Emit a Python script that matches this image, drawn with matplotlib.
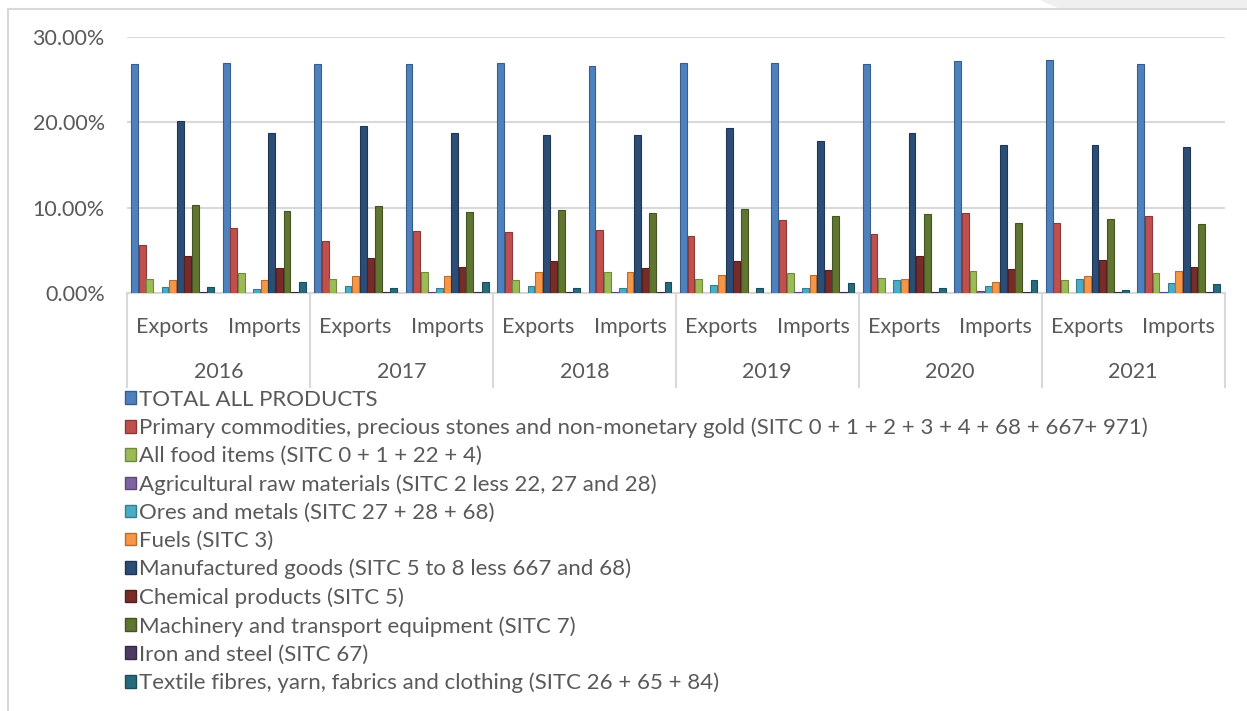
import numpy as np
import matplotlib.pyplot as plt
from matplotlib.patches import Patch, Polygon
from matplotlib.ticker import FuncFormatter

# Share of trade by product group (% of total trade), per year and flow
years = ["2016", "2017", "2018", "2019", "2020", "2021"]
flows = ["Exports", "Imports"]

products = [
    "TOTAL ALL PRODUCTS",
    "Primary commodities, precious stones and non-monetary gold (SITC 0 + 1 + 2 + 3 + 4 + 68 + 667+ 971)",
    "All food items (SITC 0 + 1 + 22 + 4)",
    "Agricultural raw materials (SITC 2 less 22, 27 and 28)",
    "Ores and metals (SITC 27 + 28 + 68)",
    "Fuels (SITC 3)",
    "Manufactured goods (SITC 5 to 8 less 667 and 68)",
    "Chemical products (SITC 5)",
    "Machinery and transport equipment (SITC 7)",
    "Iron and steel (SITC 67)",
    "Textile fibres, yarn, fabrics and clothing (SITC 26 + 65 + 84)",
]

# one value per (year, flow): 2016 Exp, 2016 Imp, 2017 Exp, ...
total_all = [26.8, 26.9, 26.8, 26.8, 26.9, 26.6, 26.9, 26.9, 26.8, 27.2, 27.25, 26.8]
primary = [5.6, 7.6, 6.1, 7.25, 7.1, 7.35, 6.65, 8.5, 6.9, 9.35, 8.2, 9.0]
food = [1.6, 2.3, 1.6, 2.45, 1.5, 2.45, 1.6, 2.3, 1.75, 2.6, 1.5, 2.3]
agri_raw = [0.05, 0.05, 0.05, 0.1, 0.05, 0.1, 0.05, 0.1, 0.05, 0.2, 0.05, 0.15]
ores = [0.7, 0.5, 0.8, 0.6, 0.8, 0.6, 0.9, 0.6, 1.5, 0.8, 1.6, 1.2]
fuels = [1.5, 1.5, 2.0, 2.0, 2.45, 2.45, 2.1, 2.1, 1.6, 1.3, 2.0, 2.6]
manufactured = [20.2, 18.8, 19.6, 18.8, 18.5, 18.5, 19.3, 17.85, 18.8, 17.35, 17.35, 17.1]
chemical = [4.3, 2.9, 4.1, 3.0, 3.75, 2.9, 3.75, 2.7, 4.3, 2.8, 3.85, 3.0]
machinery = [10.3, 9.6, 10.2, 9.5, 9.7, 9.35, 9.8, 9.0, 9.25, 8.2, 8.65, 8.1]
iron_steel = [0.1, 0.1, 0.1, 0.1, 0.1, 0.1, 0.05, 0.1, 0.1, 0.1, 0.1, 0.1]
textile = [0.7, 1.3, 0.6, 1.3, 0.6, 1.3, 0.6, 1.2, 0.6, 1.5, 0.3, 1.1]

series = [total_all, primary, food, agri_raw, ores, fuels,
          manufactured, chemical, machinery, iron_steel, textile]

colors = ["#4F81BD", "#C0504D", "#9BBB59", "#8064A2", "#4BACC6", "#F79646",
          "#2C4D75", "#772C2A", "#5F7530", "#4D3B62", "#276A7C"]
edge_colors = ["#385D8A", "#8C3836", "#71893F", "#5C4776", "#357D91", "#B66D31",
               "#1F3754", "#561F1E", "#445422", "#372A47", "#1B4C59"]

TEXT = "#595959"
GRID = "#D9D9D9"
FS = 15.5
plt.rcParams["font.family"] = ["Lato", "DejaVu Sans"]

fig = plt.figure(figsize=(12.47, 7.11), dpi=100)
ax = fig.add_axes([0.1018, 0.588, 0.8802, 0.36])

n_cat = len(years) * len(flows)
x = np.arange(n_cat)
slot = 0.915 / len(series)
for j, (vals, c, ec) in enumerate(zip(series, colors, edge_colors)):
    pos = x + (j - (len(series) - 1) / 2) * slot
    ax.bar(pos, vals, width=slot * 0.9, color=c, edgecolor=ec, linewidth=0.8,
           label=products[j], zorder=3)

ax.set_xlim(-0.5, n_cat - 0.5)
ax.set_ylim(0, 30)
ax.set_yticks([0, 10, 20, 30])
ax.yaxis.set_major_formatter(FuncFormatter(lambda v, _: f"{v:.2f}%"))
ax.tick_params(axis="y", length=0, labelsize=FS, labelcolor=TEXT, pad=16)
ax.grid(axis="y", color=GRID, linewidth=1.5, zorder=0)
ax.set_xticks([])
for side in ["left", "right", "top"]:
    ax.spines[side].set_visible(False)
ax.spines["bottom"].set_color(GRID)
ax.spines["bottom"].set_linewidth(1.5)

# two-level category axis: flow on the first row, year below
tr = ax.get_xaxis_transform()
for i in range(n_cat):
    ax.text(x[i], -0.133, flows[i % 2], transform=tr, ha="center", va="center",
            fontsize=FS, color=TEXT)
for k, yr in enumerate(years):
    ax.text(2 * k + 0.5, -0.31, yr, transform=tr, ha="center", va="center",
            fontsize=FS, color=TEXT)
for b in np.arange(-0.5, n_cat, 2):
    ax.plot([b, b], [0, -0.367], transform=tr, color=GRID, linewidth=1.5,
            clip_on=False)

# legend stacked below the chart
handles = [Patch(facecolor=c, edgecolor=ec, linewidth=1.0)
           for c, ec in zip(colors, edge_colors)]
fig.legend(handles, products, loc="upper left", bbox_to_anchor=(0.1, 0.452),
           frameon=False, fontsize=16, labelcolor=TEXT, handlelength=0.5,
           handleheight=0.5, handletextpad=0.15, labelspacing=0.36,
           borderaxespad=0, borderpad=0)

# outer chart frame and tab in the top right corner
fig.add_artist(plt.Line2D([8 / 1247, 8 / 1247], [0, 1 - 9 / 711],
                          transform=fig.transFigure, color=GRID, linewidth=1.5))
fig.add_artist(plt.Line2D([8 / 1247, 1], [1 - 9 / 711, 1 - 9 / 711],
                          transform=fig.transFigure, color=GRID, linewidth=1.5))
fig.add_artist(Polygon([[1040 / 1247, 1], [1, 1], [1, 1 - 9 / 711],
                        [1060 / 1247, 1 - 9 / 711]], closed=True,
                       transform=fig.transFigure, facecolor="#EFEFEF",
                       edgecolor="none"))

fig.savefig("out.png", dpi=100, facecolor="white")
